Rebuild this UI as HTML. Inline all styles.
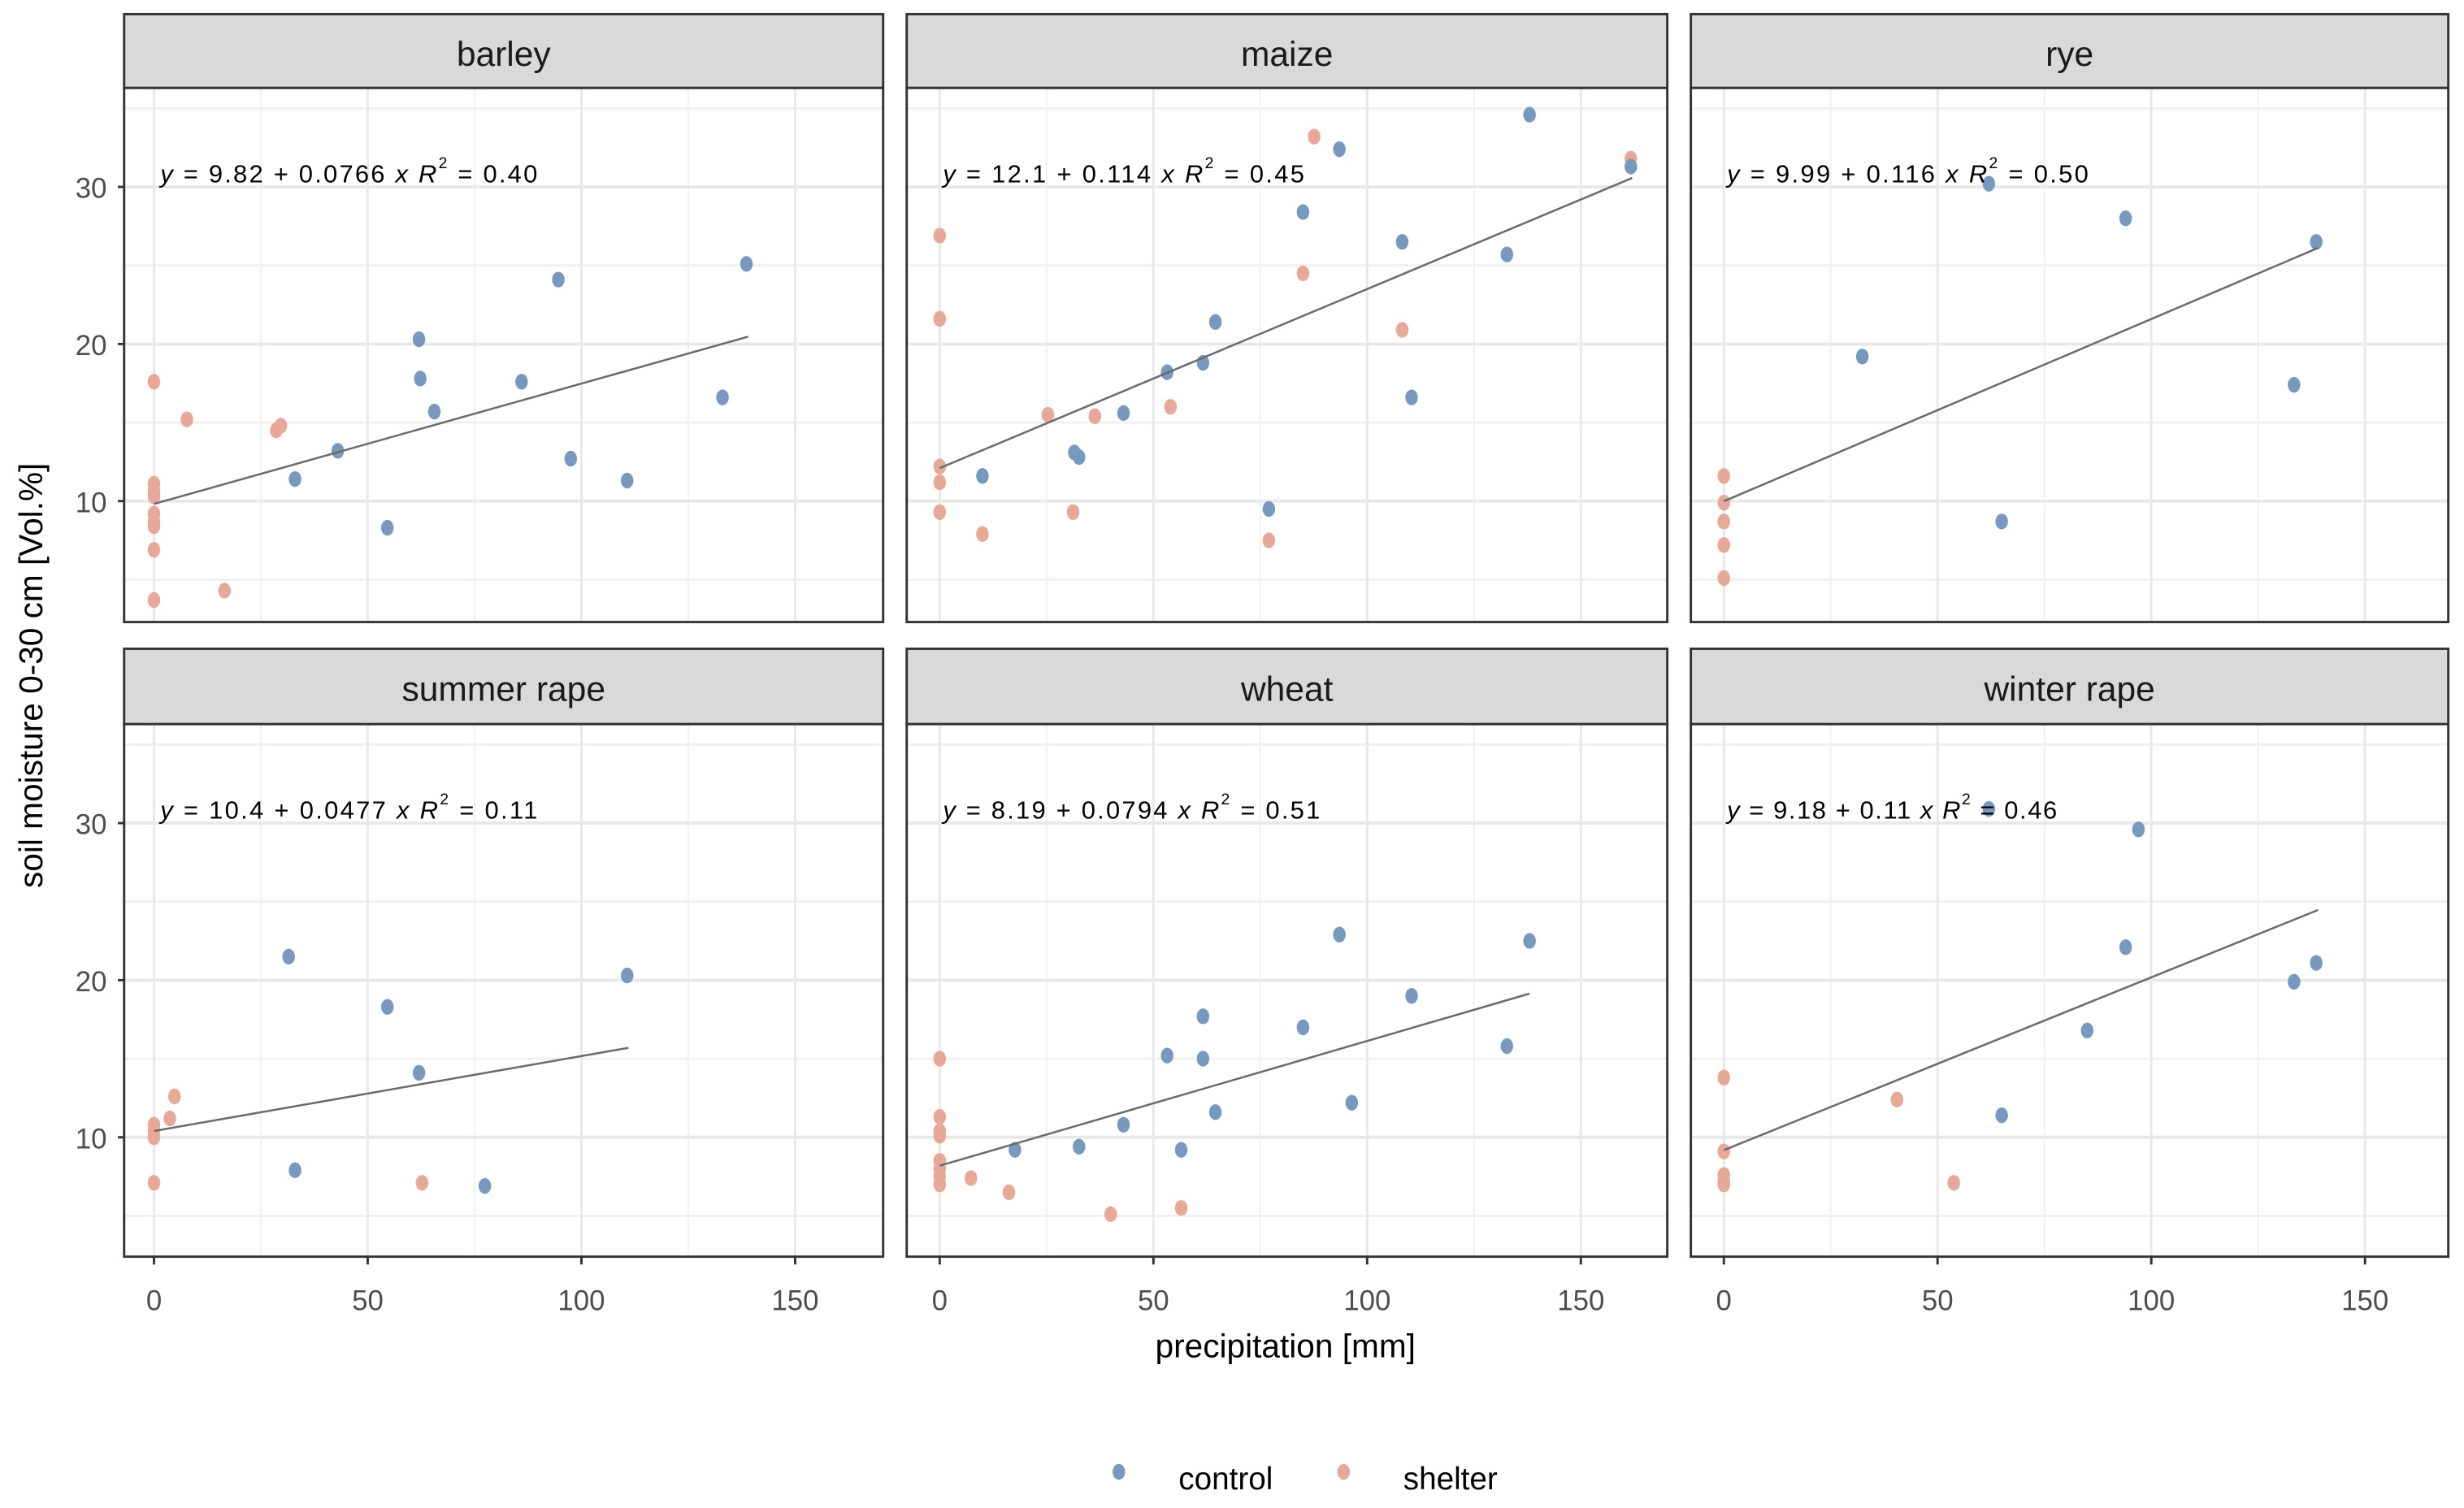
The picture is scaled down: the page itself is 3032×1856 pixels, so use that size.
<!DOCTYPE html>
<html><head><meta charset="utf-8"><style>
html,body{margin:0;padding:0;background:#fff;}
svg{display:block;}
text{font-family:"Liberation Sans",sans-serif;}
</style></head><body>
<svg id="chart" width="3032" height="1856" viewBox="0 0 1568 960" preserveAspectRatio="none" xmlns="http://www.w3.org/2000/svg">
<g id="root"></g>
<text x="0" y="0" transform="translate(27,430) rotate(-90)" text-anchor="middle" font-size="21" fill="#000">soil moisture 0-30 cm [Vol.%]</text>
<text x="818" y="864" text-anchor="middle" font-size="21" fill="#000">precipitation [mm]</text>
<g>
<ellipse cx="712" cy="937" rx="4" ry="5" fill="#7799bf"/>
<text x="750" y="948" font-size="20" fill="#000">control</text>
<ellipse cx="855" cy="937" rx="4" ry="5" fill="#e8a898"/>
<text x="893" y="948" font-size="20" fill="#000">shelter</text>
</g>
</svg>
<script>
const panelNames = ["barley","maize","rye","summer rape","wheat","winter rape"];
const equations = ["9.82 + 0.0766","12.1 + 0.114","9.99 + 0.116","10.4 + 0.0477","8.19 + 0.0794","9.18 + 0.11"];
const eqWidths = [240,230,230,240,240,210];
const r2Labels = ["0.40","0.45","0.50","0.11","0.51","0.46"];
const intercepts = [9.82,12.1,9.99,10.4,8.19,9.18];
const slopes = [0.0766,0.114,0.116,0.0477,0.0794,0.11];
const lineXMax = [139,162,139,111,138,139];
const xTicks = [0,50,100,150];
const yTicks = [10,20,30];
const xMinor = [25,75,125];
const yMinor = [5,15,25,35];
const controlX = [
 [33,43,54.6,62,62.3,65.6,86,94.6,97.5,110.7,133,138.6],
 [10,31.5,32.6,43,53.2,61.6,64.5,77,85,93.5,108.2,110.4,132.7,138,161.7],
 [32.4,62,65,94,133.4,138.6],
 [31.5,33,54.6,62,77.4,110.7],
 [17.6,32.6,43,53.2,56.5,61.6,61.6,64.5,85,93.5,96.4,110.4,132.7,138],
 [62,65,85,94,97,133.4,138.6]];
const controlY = [
 [11.4,13.2,8.3,20.3,17.8,15.7,17.6,24.1,12.7,11.3,16.6,25.1],
 [11.6,13.1,12.8,15.6,18.2,18.8,21.4,9.5,28.4,32.4,26.5,16.6,25.7,34.6,31.3],
 [19.2,30.2,8.7,28,17.4,26.5],
 [21.5,7.9,18.3,14.1,6.9,20.3],
 [9.2,9.4,10.8,15.2,9.2,17.7,15,11.6,17,22.9,12.2,19,15.8,22.5],
 [30.9,11.4,16.8,22.1,29.6,19.9,21.1]];
const shelterX = [
 [0,0,0,0,0,0,0,0,0,7.7,28.6,29.7,16.5],
 [0,0,0,0,0,10,25.3,36.3,54,31.2,77,85,87.6,108.2,161.7],
 [0,0,0,0,0],
 [0,0,0,0,3.7,4.8,62.7],
 [0,0,0,0,0,0,0,0,7.3,16.2,40,56.5],
 [0,0,0,0,0,40.5,53.8]];
const shelterY = [
 [17.6,11.1,10.6,10.3,9.2,8.7,8.4,6.9,3.7,15.2,14.5,14.8,4.3],
 [26.9,21.6,12.2,11.2,9.3,7.9,15.5,15.4,16,9.3,7.5,24.5,33.2,20.9,31.8],
 [11.6,9.9,8.7,7.2,5.1],
 [10.8,10.4,10.0,7.1,11.2,12.6,7.1],
 [15,11.3,10.4,10.1,8.5,8.0,7.5,7.0,7.4,6.5,5.1,5.5],
 [13.8,9.1,7.6,7.2,7.0,12.4,7.1]];

const NS="http://www.w3.org/2000/svg";
const root=document.getElementById('root');
function mk(tag,attrs,parent){const e=document.createElementNS(NS,tag);for(const k in attrs)e.setAttribute(k,attrs[k]);(parent||root).appendChild(e);return e;}
const colL=[79,577,1076], colR=[562,1061,1558];
const rowStrip=[9,413], rowTop=[56,461], rowBot=[396,800];
const x0=[98,598,1097], pxPerMm=2.72;
const y10=[319,724], pxPerUnit=10;

for(let p=0;p<6;p++){
  const c=p%3, r=Math.floor(p/3);
  const sx=v=>x0[c]+v*pxPerMm;
  const sy=v=>y10[r]-(v-10)*pxPerUnit;
  const L=colL[c],R=colR[c],T=rowTop[r],B=rowBot[r];
  const g=mk('g',{});
  
  
  const strip=mk('rect',{x:L,y:rowStrip[r],width:R-L,height:T-rowStrip[r],fill:'#d9d9d9',stroke:'#333','stroke-width':1.5},g);
  
  
  const st=mk('text',{x:(L+R)/2,y:rowStrip[r]+33,'text-anchor':'middle','font-size':22,fill:'#1a1a1a'},g);
  st.textContent=panelNames[p];
  
  
  mk('rect',{x:L,y:T,width:R-L,height:B-T,fill:'#fff'},g);
  xMinor.forEach(v=>{const l=mk('line',{x1:sx(v),x2:sx(v),y1:T,y2:B,stroke:'#f0f0f0','stroke-width':1},g);});
  yMinor.forEach(v=>{const l=mk('line',{x1:L,x2:R,y1:sy(v),y2:sy(v),stroke:'#f0f0f0','stroke-width':1.5},g);});
  xTicks.forEach(v=>{const l=mk('line',{x1:sx(v),x2:sx(v),y1:T,y2:B,stroke:'#e8e8e8','stroke-width':1.5},g);});
  yTicks.forEach(v=>{const l=mk('line',{x1:L,x2:R,y1:sy(v),y2:sy(v),stroke:'#e8e8e8','stroke-width':2},g);});
  shelterX[p].forEach((v,i)=>{const e=mk('ellipse',{cx:sx(v),cy:sy(shelterY[p][i]),rx:4,ry:5,fill:'#e8a898'},g);});
  controlX[p].forEach((v,i)=>{const e=mk('ellipse',{cx:sx(v),cy:sy(controlY[p][i]),rx:4,ry:5,fill:'#7799bf'},g);});
  const ln=mk('line',{x1:sx(0),y1:sy(intercepts[p]),x2:sx(lineXMax[p]),y2:sy(intercepts[p]+slopes[p]*lineXMax[p]),stroke:'#6b6b6b','stroke-width':1.3},g);
  
  
  const eq=mk('text',{x:L+23,y:T+60,'font-size':16,fill:'#000',textLength:eqWidths[p],lengthAdjust:'spacing'},g);
  eq.innerHTML='<tspan font-style="italic">y</tspan> = '+equations[p]+' <tspan font-style="italic">x</tspan>    <tspan font-style="italic">R</tspan><tspan font-size="10" dy="-9">2</tspan><tspan dy="9"> = '+r2Labels[p]+'</tspan>';
  
  
  const fr=mk('rect',{x:L,y:T,width:R-L,height:B-T,fill:'none',stroke:'#333','stroke-width':1.5},g);
  
  
  if(c===0){
    yTicks.forEach(v=>{
      mk('line',{x1:L-4,x2:L,y1:sy(v),y2:sy(v),stroke:'#333','stroke-width':1.5},g);
      const t=mk('text',{x:L-11,y:sy(v)+7,'text-anchor':'end','font-size':18,fill:'#4d4d4d'},g);
      t.textContent=v;
      
      
    });
  }
  if(r===1){
    xTicks.forEach(v=>{
      mk('line',{x1:sx(v),x2:sx(v),y1:B,y2:B+5,stroke:'#333','stroke-width':1.5},g);
      const t=mk('text',{x:sx(v),y:B+34,'text-anchor':'middle','font-size':18,fill:'#4d4d4d'},g);
      t.textContent=v;
      
      
    });
  }
}
</script>
</body></html>
